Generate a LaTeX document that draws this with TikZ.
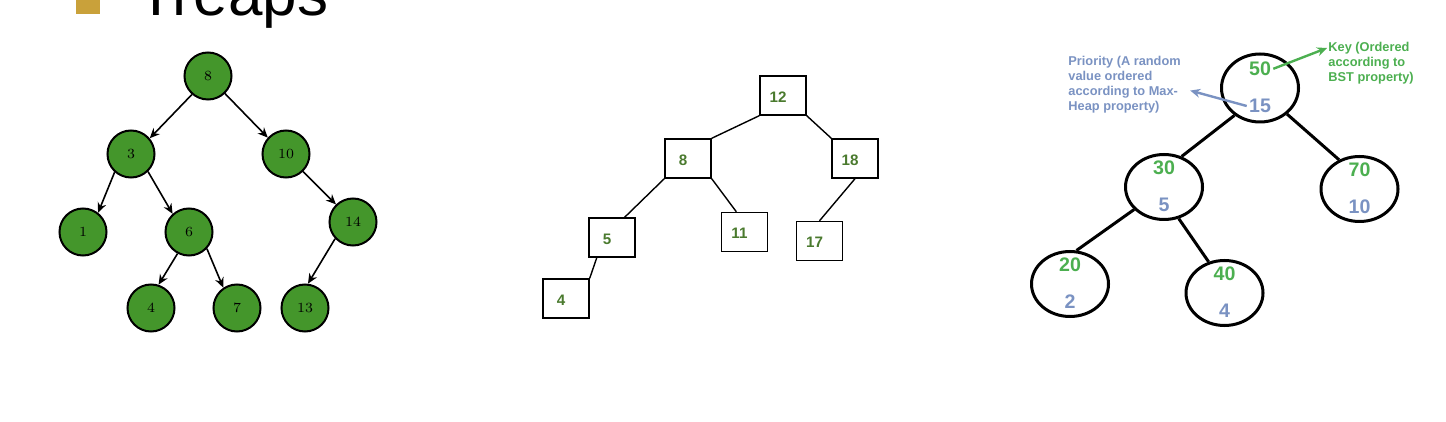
\documentclass[tikz,border=0pt]{standalone}
\usepackage{fontspec}
\newfontfamily\arial{Liberation Sans}
\usetikzlibrary{shapes.geometric,calc,arrows.meta}
\definecolor{bulletgold}{HTML}{C9A13A}
\definecolor{leafgreen}{HTML}{44962B}
\definecolor{bstgreen}{HTML}{4A7A2E}
\definecolor{keygreen}{HTML}{4CAF50}
\definecolor{priogray}{HTML}{7A92C2}

\begin{document}
\begin{tikzpicture}[x=0.5pt, y=-0.5pt, >={Stealth[length=5pt,width=4.4pt]},
    heapnode/.style={circle, draw, line width=1pt, fill=leafgreen, minimum size=23.5pt, inner sep=0pt, font=\fontsize{7}{8}\selectfont},
    heaparrow/.style={->, line width=0.8pt},
    bstbox/.style={draw, line width=0.7pt, minimum width=23pt, minimum height=19.5pt, inner sep=0pt},
    bstlbl/.style={text=bstgreen, font=\arial\bfseries\fontsize{7.6}{8}\selectfont, xshift=-2.5pt, yshift=-0.75pt},
    treapnode/.style={ellipse, draw, line width=1.5pt, minimum width=38.5pt, minimum height=32.5pt, inner sep=0pt},
    keytxt/.style={text=keygreen, font=\arial\bfseries\fontsize{9.8}{10}\selectfont, inner sep=1pt, yshift=9.6pt},
    priotxt/.style={text=priogray, font=\arial\bfseries\fontsize{9.8}{10}\selectfont, inner sep=1pt, yshift=-9pt},
    note/.style={anchor=north west, align=left, inner sep=0pt, font=\arial\bfseries\fontsize{6.4}{7.4}\selectfont}]
    \clip (0,0) rectangle (1446,422);

    % Titre (coupe en haut)
    \fill[bulletgold] (76,-12) rectangle (100,14);
    \node[anchor=base west, inner sep=0pt, font=\arial\fontsize{31}{32}\selectfont] (title) at (137,16) {Treaps};

    % Arbre 1 : cercles verts
    \node[heapnode] (n8) at (208,76) {8};
    \node[heapnode] (n3) at (131,154) {3};
    \node[heapnode] (n10) at (286,154) {10};
    \node[heapnode] (n1) at (83,232) {1};
    \node[heapnode] (n6) at (189,232) {6};
    \node[heapnode] (n14) at (353,222) {14};
    \node[heapnode] (n4) at (151,308) {4};
    \node[heapnode] (n7) at (237,308) {7};
    \node[heapnode] (n13) at (305,308) {13};
    \draw[heaparrow] (n8.229) -- (n3.40);
    \draw[heaparrow] (n8.314) -- (n10.138);
    \draw[heaparrow] (n3.228) -- (n1.52);
    \draw[heaparrow] (n3.314) -- (n6.132);
    \draw[heaparrow] (n10.314) -- (n14.134);
    \draw[heaparrow] (n6.242) -- (n4.72);
    \draw[heaparrow] (n6.317) -- (n7.124);
    \draw[heaparrow] (n14.223) -- (n13.83);

    % Arbre 2 : BST (boites)
    \node[bstbox, label={[bstlbl]center:12}] (b12) at (783,95.5) {};
    \node[bstbox, label={[bstlbl]center:8}] (b8) at (688,158.5) {};
    \node[bstbox, label={[bstlbl]center:18}] (b18) at (855,158.5) {};
    \node[bstbox, label={[bstlbl]center:5}] (b5) at (612,237.5) {};
    \node[bstbox, label={[bstlbl]center:11}] (b11) at (744.5,232) {};
    \node[bstbox, label={[bstlbl]center:17}] (b17) at (819.5,241) {};
    \node[bstbox, label={[bstlbl]center:4}] (b4) at (566,298.5) {};
    \draw[line width=0.7pt] (b12.south west) -- (b8.north east);
    \draw[line width=0.7pt] (b12.south east) -- (b18.north west);
    \draw[line width=0.7pt] (b8.south west) -- (b5.58);
    \draw[line width=0.7pt] (b8.south east) -- (b11.112);
    \draw[line width=0.7pt] (b18.south) -- (b17.north);
    \draw[line width=0.7pt] (b5.233) -- (b4.north east);

    % Arbre 3 : treap (cle / priorite)
    \node[treapnode, minimum height=34pt, label={[keytxt, name=k50]center:50}, label={[priotxt, name=p15]center:15}] (r50) at (1260,88) {};
    \node[treapnode, label={[keytxt]center:30}, label={[priotxt]center:5}] (r30) at (1164,187) {};
    \node[treapnode, label={[keytxt]center:70}, label={[priotxt]center:10}] (r70) at (1359.5,189) {};
    \node[treapnode, label={[keytxt]center:20}, label={[priotxt]center:2}] (r20) at (1070,284) {};
    \node[treapnode, label={[keytxt]center:40}, label={[priotxt]center:4}] (r40) at (1224.5,293) {};
    \draw[line width=1.5pt] (r50.227) -- (r30.60);
    \draw[line width=1.5pt] (r50.316) -- (r70.125);
    \draw[line width=1.5pt] (r30.217) -- (r20.79);
    \draw[line width=1.5pt] (r30.295) -- (r40.117);

    % Annotations
    \node[note, text=priogray] (prionote) at (1068,56) {Priority (A random\\value ordered\\according to Max-\\Heap property)};
    \node[note, text=keygreen] (keynote) at (1328,42) {Key (Ordered\\according to\\BST property)};
    \draw[->, line width=1.2pt, keygreen] (k50.east) -- ($(keynote.north west)+(-1,6)$);
    \draw[->, line width=1.2pt, priogray] (p15.west) -- ($(prionote.east)+(9,6)$);

\end{tikzpicture}
\end{document}
